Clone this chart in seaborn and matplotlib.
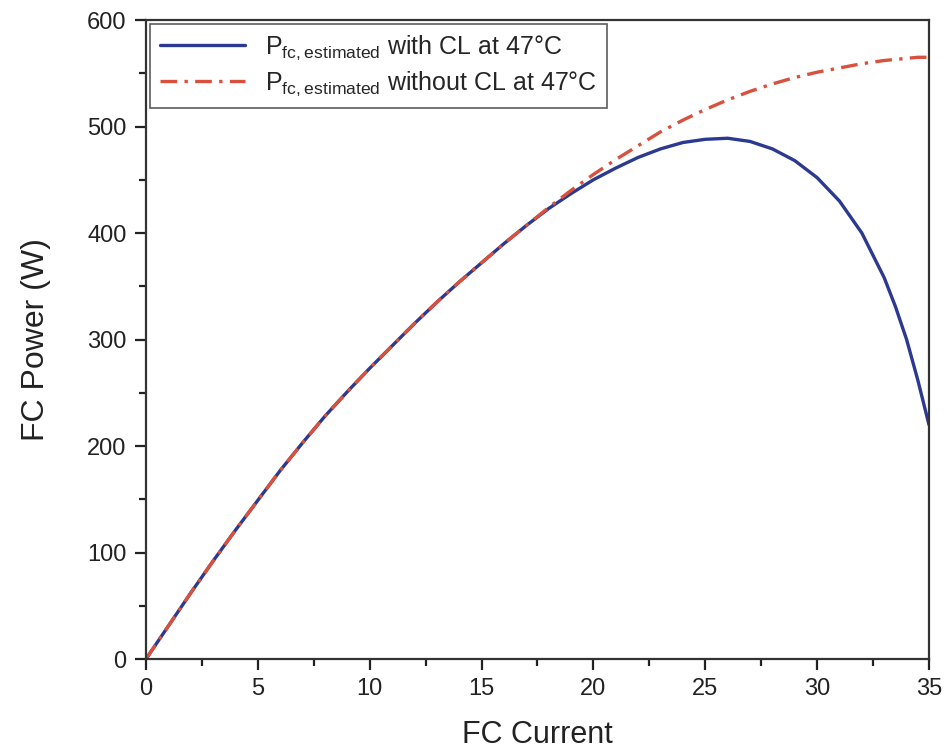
import numpy as np
import pandas as pd
import seaborn as sns
import matplotlib
matplotlib.use("Agg")
import matplotlib.pyplot as plt
from matplotlib.ticker import MultipleLocator

# FC current (A)
current = [0, 1, 2, 3, 4, 5, 6, 7, 8, 9, 10, 11, 12, 13, 14, 15, 16, 17,
           18, 19, 20, 21, 22, 23, 24, 25, 26, 27, 28, 29, 30, 31, 32, 33,
           33.5, 34, 34.5, 35]
# Estimated FC power with CL at 47 C (W)
p_with_cl = [0, 31, 62, 92, 121, 149, 177, 203, 228, 251, 273, 294, 315, 335,
             354, 372, 390, 407, 423, 437, 450, 461, 471, 479, 485, 488, 489,
             486, 479, 468, 452, 430, 400, 358, 331, 300, 262, 220]
# Estimated FC power without CL at 47 C (W)
p_without_cl = [0, 31, 62, 92, 121, 149, 177, 203, 228, 251, 273, 294, 315, 335,
                354, 372, 390, 407, 424, 440, 455, 469, 482, 495, 506, 516, 525,
                533, 540, 546, 551, 555, 559, 562, 563, 564, 565, 565]

labels = [r"$\mathregular{P_{fc,estimated}}$ with CL at 47°C",
          r"$\mathregular{P_{fc,estimated}}$ without CL at 47°C"]

df = pd.concat([
    pd.DataFrame({"I": current, "P": p_with_cl, "series": labels[0]}),
    pd.DataFrame({"I": current, "P": p_without_cl, "series": labels[1]}),
])

sns.set_theme(style="white")
plt.rcParams["font.family"] = ["Liberation Sans", "DejaVu Sans"]
plt.rcParams["mathtext.fontset"] = "custom"
plt.rcParams["mathtext.rm"] = "Liberation Sans"

fig = plt.figure(figsize=(9.46, 7.5), dpi=100)
ax = fig.add_axes([0.1543, 0.1213, 0.9820 - 0.1543, 0.9733 - 0.1213])

sns.lineplot(data=df, x="I", y="P", hue="series", style="series",
             palette={labels[0]: "#2b3990", labels[1]: "#d9503c"},
             dashes={labels[0]: "", labels[1]: (5, 2.2, 1, 2.2)},
             linewidth=2.4, ax=ax, legend=False, sort=False)

ax.set_xlim(0, 35)
ax.set_ylim(0, 600)
ax.xaxis.set_major_locator(MultipleLocator(5))
ax.xaxis.set_minor_locator(MultipleLocator(2.5))
ax.yaxis.set_major_locator(MultipleLocator(100))
ax.yaxis.set_minor_locator(MultipleLocator(50))
ax.tick_params(which="both", direction="out", bottom=True, left=True,
               top=False, right=False, colors="#222222", width=1.6)
ax.tick_params(which="major", length=8, labelsize=17, pad=6)
ax.tick_params(which="minor", length=5)
for s in ax.spines.values():
    s.set_color("#333333")
    s.set_linewidth(1.6)

ax.set_xlabel("FC Current", fontsize=22, color="#222222", labelpad=14)
ax.set_ylabel("FC Power (W)", fontsize=23, color="#222222", labelpad=26)

lines = ax.get_lines()
leg = ax.legend(lines[:2], labels, loc="upper left", fontsize=18,
                frameon=True, fancybox=False, edgecolor="#333333",
                handlelength=3.4, borderaxespad=0.15, labelspacing=0.3,
                bbox_to_anchor=(0.0, 1.0))
leg.get_frame().set_linewidth(1.2)

fig.savefig("out.png", dpi=100, facecolor="white")
